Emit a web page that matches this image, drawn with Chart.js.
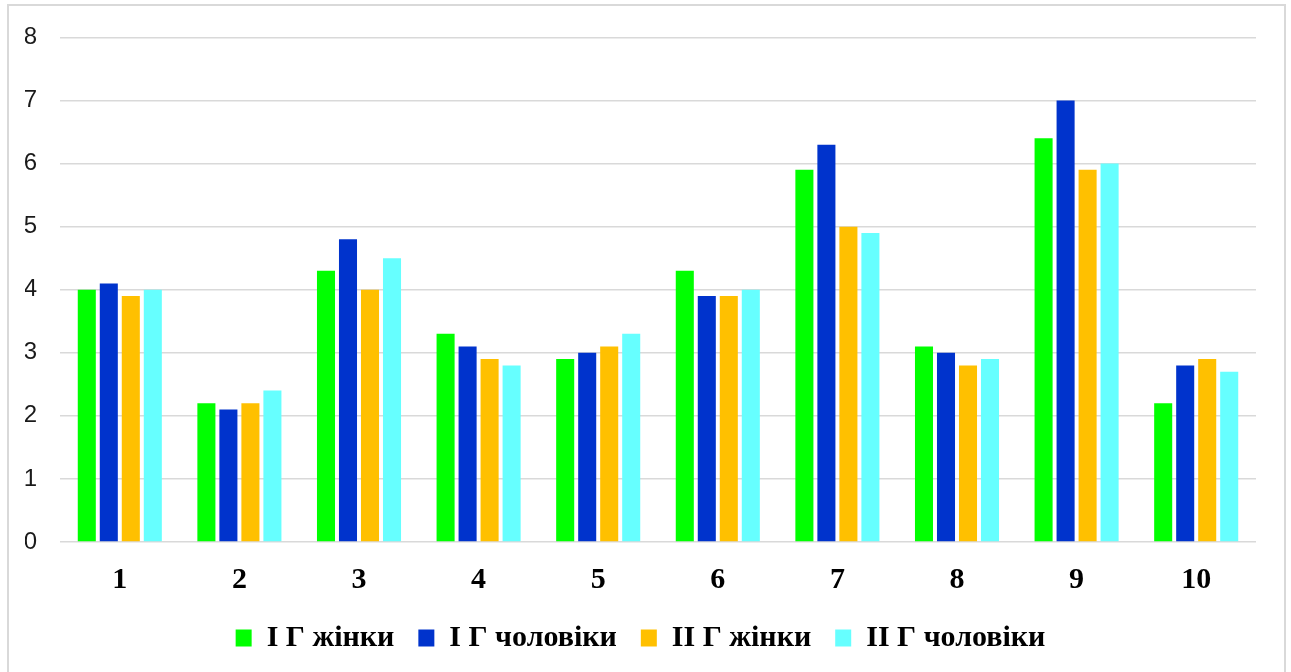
<!DOCTYPE html>
<html>
<head>
<meta charset="utf-8">
<script src="https://cdn.jsdelivr.net/npm/chart.js@4.4.1/dist/chart.umd.min.js"></script>
<style>
  html, body { margin: 0; padding: 0; background: #ffffff; }
  #wrap { position: relative; width: 1291px; height: 672px; overflow: hidden; }
  #frame { position: absolute; left: 7px; top: 4px; width: 1279px; height: 700px;
           border: 2px solid #d9d9d9; box-sizing: border-box; pointer-events: none; }
  canvas { position: absolute; left: 0; top: 0; }
</style>
</head>
<body>
<div id="wrap">
  <canvas id="chart" width="1291" height="672"></canvas>
  <div id="frame"></div>
</div>
<script>
// Categories (question numbers) and group series
const categories = ['1', '2', '3', '4', '5', '6', '7', '8', '9', '10'];
const seriesNames = ['І Г жінки', 'І Г чоловіки', 'ІІ Г жінки', 'ІІ Г чоловіки'];
const g1Women = [4.0, 2.2, 4.3, 3.3, 2.9, 4.3, 5.9, 3.1, 6.4, 2.2];
const g1Men   = [4.1, 2.1, 4.8, 3.1, 3.0, 3.9, 6.3, 3.0, 7.0, 2.8];
const g2Women = [3.9, 2.2, 4.0, 2.9, 3.1, 3.9, 5.0, 2.8, 5.9, 2.9];
const g2Men   = [4.0, 2.4, 4.5, 2.8, 3.3, 4.0, 4.9, 2.9, 6.0, 2.7];
const yTicks  = [0, 1, 2, 3, 4, 5, 6, 7, 8];

const colors = ['#00ff00', '#0033cc', '#ffc000', '#66ffff'];
const values = [g1Women, g1Men, g2Women, g2Men];

const datasets = seriesNames.map((name, i) => ({
  label: name,
  data: values[i],
  backgroundColor: colors[i],
  borderWidth: 0,
  categoryPercentage: 0.736,
  barPercentage: 0.82
}));

new Chart(document.getElementById('chart'), {
  type: 'bar',
  data: { labels: categories, datasets },
  options: {
    responsive: false,
    animation: false,
    layout: { padding: { top: 28, right: 35, left: 25, bottom: 13 } },
    plugins: {
      tooltip: { enabled: false },
      legend: {
        position: 'bottom',
        maxHeight: 60,
        labels: {
          boxWidth: 16,
          boxHeight: 17,
          padding: 24,
          color: '#000000',
          font: { family: 'Liberation Serif', size: 30, weight: 'bold' }
        }
      }
    },
    scales: {
      x: {
        grid: { display: false, drawTicks: false },
        border: { display: false },
        afterFit: axis => { axis.height = 57; },
        ticks: {
          padding: 20,
          color: '#000000',
          font: { family: 'Liberation Serif', size: 30, weight: 'bold' }
        }
      },
      y: {
        min: 0,
        max: 8,
        afterBuildTicks: axis => { axis.ticks = yTicks.map(v => ({ value: v })); },
        afterFit: axis => { axis.width = 35; },
        grid: { color: '#d9d9d9', lineWidth: 1.5, drawTicks: false },
        border: { display: false },
        ticks: {
          padding: 23,
          color: '#1a1a1a',
          font: { family: 'Liberation Sans', size: 24 }
        }
      }
    }
  }
});
</script>
</body>
</html>
